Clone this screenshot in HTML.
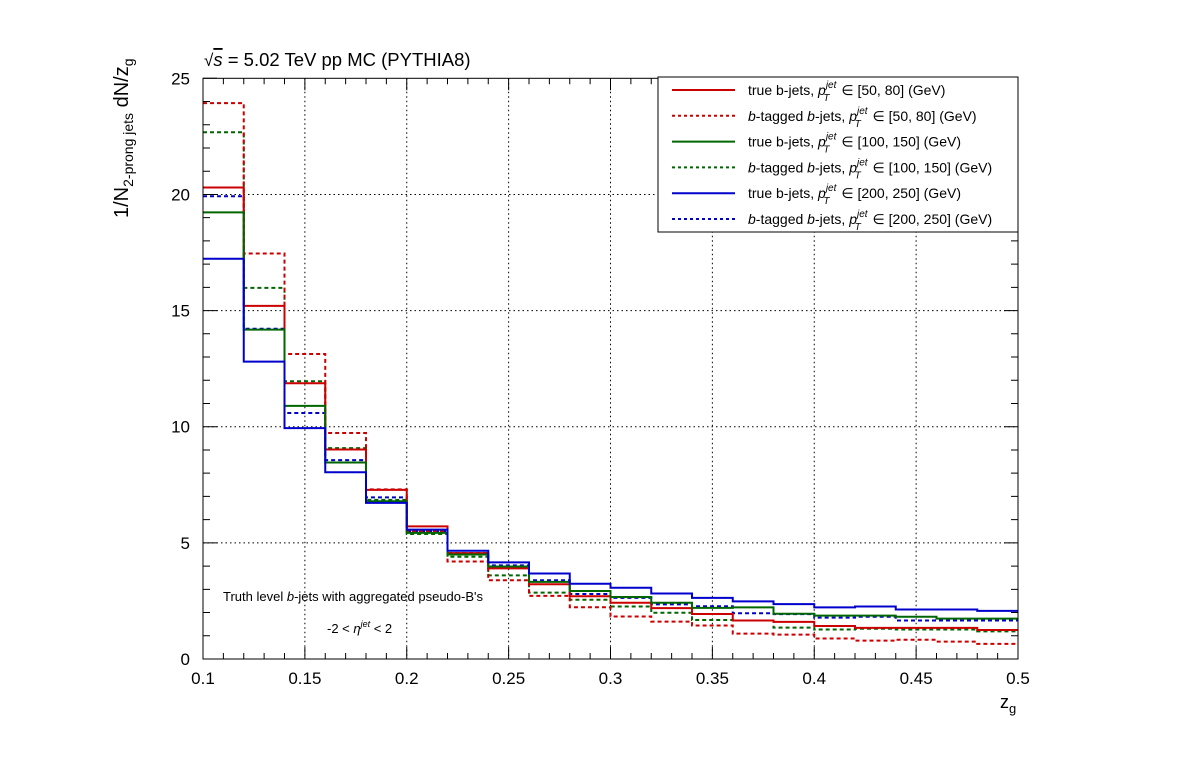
<!DOCTYPE html>
<html><head><meta charset="utf-8"><style>
body{margin:0;background:#fff;}
svg{display:block;font-family:"Liberation Sans",sans-serif;}
</style></head><body>
<svg id="chart" width="1198" height="776" viewBox="0 0 1198 776">
<rect width="1198" height="776" fill="#fff"/>
<g id="grid"></g>
<g id="series"></g>
<g id="axes"></g>
<text x="204" y="66" font-size="18.5"><tspan font-size="17">√</tspan><tspan font-style="italic" text-decoration="overline">s</tspan> = 5.02 TeV pp MC (PYTHIA8)</text>
<text transform="translate(128,218) rotate(-90)" font-size="20">1/N<tspan font-size="14" dy="5">2-prong jets</tspan><tspan dy="-5"> dN/z</tspan><tspan font-size="14" dy="5">g</tspan></text>
<text x="1000" y="708" font-size="18">z<tspan font-size="13" dy="5">g</tspan></text>
<text x="223" y="601" font-size="13">Truth level <tspan font-style="italic">b</tspan>-jets with aggregated pseudo-B's</text>
<text x="327" y="633" font-size="13">-2 &lt; <tspan font-style="italic">η</tspan><tspan font-size="9" dy="-6" font-style="italic">jet</tspan><tspan dy="6"> &lt; 2</tspan></text>
<g id="legend"></g>
</svg>
<script>
const binEdges=[0.10,0.12,0.14,0.16,0.18,0.20,0.22,0.24,0.26,0.28,0.30,0.32,0.34,0.36,0.38,0.40,0.42,0.44,0.46,0.48,0.50];
const redTrue=[20.3,15.2,11.87,9.02,7.28,5.71,4.56,3.9,3.22,2.7,2.42,2.19,1.94,1.66,1.6,1.42,1.34,1.34,1.34,1.25];
const redTagged=[23.93,17.46,13.13,9.73,7.3,5.5,4.2,3.39,2.72,2.23,1.83,1.61,1.44,1.09,1.05,0.88,0.79,0.83,0.75,0.65];
const greenTrue=[19.23,14.18,10.9,8.46,6.79,5.43,4.5,3.98,3.32,2.93,2.67,2.42,2.2,2.22,1.95,1.87,1.87,1.82,1.74,1.74];
const greenTagged=[22.68,15.98,11.96,9.08,6.85,5.38,4.4,3.6,2.86,2.55,2.26,1.99,1.68,1.66,1.35,1.27,1.3,1.27,1.27,1.19];
const blueTrue=[17.23,12.8,9.94,8.04,6.72,5.57,4.66,4.16,3.68,3.24,3.07,2.82,2.63,2.48,2.36,2.22,2.26,2.13,2.13,2.07];
const blueTagged=[19.92,14.22,10.59,8.56,6.96,5.5,4.56,4.03,3.39,2.8,2.63,2.35,2.27,1.97,1.93,1.78,1.82,1.66,1.66,1.66];
const xTicks=[0.1,0.15,0.2,0.25,0.3,0.35,0.4,0.45,0.5];
const xTickLabels=["0.1","0.15","0.2","0.25","0.3","0.35","0.4","0.45","0.5"];
const yTicks=[0,5,10,15,20,25];
const yTickLabels=["0","5","10","15","20","25"];
const legendLabels=[
 ['true b-jets, ','[50, 80] (GeV)',false],
 ['b-tagged b-jets,  ','[50, 80] (GeV)',true],
 ['true b-jets, ','[100, 150] (GeV)',false],
 ['b-tagged b-jets,  ','[100, 150] (GeV)',true],
 ['true b-jets, ','[200, 250] (GeV)',false],
 ['b-tagged b-jets,  ','[200, 250] (GeV)',true]];

const L=203,R=1018,T=78.3,B=659,X0=0.1,X1=0.5,Y0=0,Y1=25;
const sx=v=>L+(v-X0)/(X1-X0)*(R-L);
const sy=v=>B-(v-Y0)/(Y1-Y0)*(B-T);
const NS='http://www.w3.org/2000/svg';
function mk(tag,attrs,parent){const e=document.createElementNS(NS,tag);for(const k in attrs)e.setAttribute(k,attrs[k]);parent.appendChild(e);return e;}
const grid=document.getElementById('grid'),axes=document.getElementById('axes'),ser=document.getElementById('series'),leg=document.getElementById('legend');

xTicks.forEach((v,i)=>{
 if(i>0&&i<xTicks.length-1){const g=mk('line',{x1:sx(v),x2:sx(v),y1:T,y2:B,stroke:'#000','stroke-width':1,'stroke-dasharray':'1.5,3'},grid);
 }
 const t=mk('text',{x:sx(v),y:B+25,'font-size':17,'text-anchor':'middle'},axes);t.textContent=xTickLabels[i];
 
});
yTicks.forEach((v,i)=>{
 if(i>0&&i<yTicks.length-1){const g=mk('line',{x1:L,x2:R,y1:sy(v),y2:sy(v),stroke:'#000','stroke-width':1,'stroke-dasharray':'1.5,3'},grid);
 }
 const t=mk('text',{x:L-13,y:sy(v)+6,'font-size':17,'text-anchor':'end'},axes);t.textContent=yTickLabels[i];
 
});
let tk='';
for(let k=0;k<=40;k++){const v=0.1+k*0.01,x=sx(v),len=(k%5===0)?12:6;tk+=`M${x},${B}v${-len}M${x},${T}v${len}`;}
for(let k=0;k<=25;k++){const y=sy(k),len=(k%5===0)?14:7;tk+=`M${L},${y}h${len}M${R},${y}h${-len}`;}
const tp=mk('path',{d:tk,stroke:'#000','stroke-width':1,fill:'none'},axes);

const fr=mk('rect',{x:L,y:T,width:R-L,height:B-T,fill:'none',stroke:'#000','stroke-width':1},axes);


const seriesDefs=[
 [blueTagged,'#0000cc',true,'blue-tagged-200-250'],
 [greenTagged,'#006600',true,'green-tagged-100-150'],
 [redTagged,'#cc0000',true,'red-tagged-50-80'],
 [redTrue,'#cc0000',false,'red-true-50-80'],
 [greenTrue,'#006600',false,'green-true-100-150'],
 [blueTrue,'#0000cc',false,'blue-true-200-250']];
seriesDefs.forEach(([vals,col,dash,name])=>{
 let d='';
 vals.forEach((v,i)=>{const x0=sx(binEdges[i]),x1=sx(binEdges[i+1]),y=sy(v);d+=(i===0?`M${x0},${y}`:`V${y}`)+`H${x1}`;});
 const p=mk('path',{d:d,fill:'none',stroke:col,'stroke-width':2},ser);
 if(dash)p.setAttribute('stroke-dasharray','4,3');
 
 
});

const lb=mk('rect',{x:658,y:77,width:360,height:155,fill:'#fff',stroke:'#000','stroke-width':1},leg);

const legCols=['#cc0000','#cc0000','#006600','#006600','#0000cc','#0000cc'];
legendLabels.forEach((lab,i)=>{
 const y=90+i*25.8;
 const g=mk('g',{},leg);
 
 
 const ln=mk('line',{x1:672,x2:735,y1:y,y2:y,stroke:legCols[i],'stroke-width':2},g);
 if(lab[2])ln.setAttribute('stroke-dasharray','3,3');
 const t=mk('text',{x:748,y:y+5,'font-size':14},g);
 const pt='<tspan font-style="italic">p</tspan><tspan font-size="10" dy="-7" font-style="italic">jet</tspan><tspan font-size="10" dx="-13" dy="13" font-style="italic">T</tspan><tspan dy="-6" dx="8"> ∈ '+lab[1]+'</tspan>';
 if(lab[2]){t.innerHTML='<tspan font-style="italic">b</tspan>-tagged <tspan font-style="italic">b</tspan>-jets,  '+pt;}
 else{t.innerHTML='true b-jets, '+pt;}
});
</script>
</body></html>
